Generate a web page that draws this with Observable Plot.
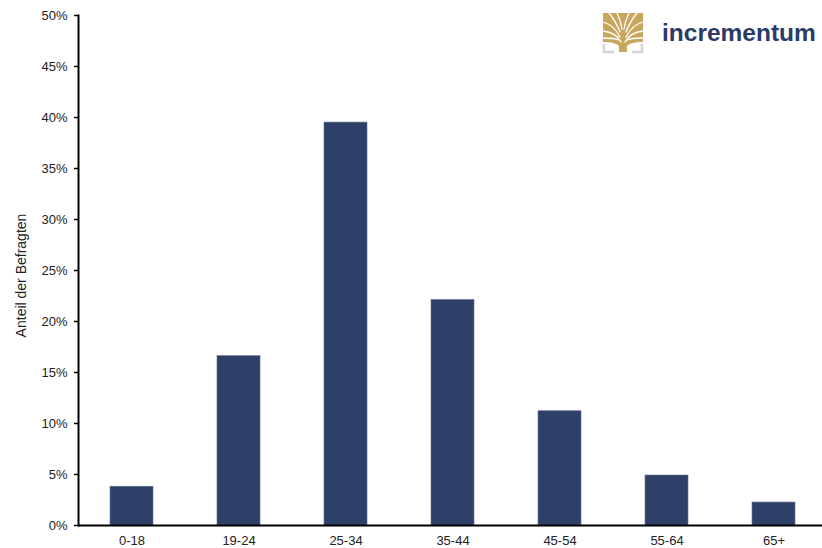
<!DOCTYPE html>
<html>
<head>
<meta charset="utf-8">
<script src="https://cdn.jsdelivr.net/npm/d3@7"></script>
<script src="https://cdn.jsdelivr.net/npm/@observablehq/plot@0.6"></script>
<style>
  html, body { margin: 0; padding: 0; background: #fff; }
  #wrap { position: relative; width: 822px; height: 548px; overflow: hidden; font-family: "Liberation Sans", Arial, sans-serif; }
  #logo { position: absolute; left: 602px; top: 12px; width: 220px; height: 44px; }
  #logo svg { position: absolute; left: 0; top: 0; }
  #logo .word { position: absolute; left: 60px; top: 7px; font-family: "Liberation Sans", Arial, sans-serif; font-weight: bold; font-size: 24.5px; line-height: 28px; color: #2b3a67; letter-spacing: 0px; }
</style>
</head>
<body>
<div id="wrap">
  <div id="chart"></div>
  <div id="logo">
    <svg width="42" height="42" viewBox="0 0 42 42">
      <path d="M1 1 H41 V30 C33 30 28 31 25 34 V40 H17 V34 C14 31 9 30 1 30 Z" fill="#c9a65e"/>
      <g stroke="#fff" stroke-width="1.3" fill="none" stroke-linecap="round">
        <path d="M19 30 C16 24 9 20 1 19"/>
        <path d="M23 30 C26 24 33 20 41 19"/>
        <path d="M18 25 C14 17 8 12 1 10"/>
        <path d="M24 25 C28 17 34 12 41 10"/>
        <path d="M18 20 C15 12 11 6 7 1"/>
        <path d="M24 20 C27 12 31 6 35 1"/>
        <path d="M20 17 C19 10 17 5 15 1"/>
        <path d="M22 17 C23 10 25 5 27 1"/>
        <path d="M17 28 C12 26 6 26 1 26"/>
        <path d="M25 28 C30 26 36 26 41 26"/>
      </g>
      <path d="M2 32 V40 H12" stroke="#d5d5d5" stroke-width="2.5" fill="none"/>
      <path d="M40 32 V40 H30" stroke="#d5d5d5" stroke-width="2.5" fill="none"/>
    </svg>
    <div class="word">incrementum</div>
  </div>
</div>
<script>
const categories = ["0-18", "19-24", "25-34", "35-44", "45-54", "55-64", "65+"];
const shares = [3.8, 16.6, 39.5, 22.1, 11.2, 4.9, 2.25];
const yTicks = [0, 5, 10, 15, 20, 25, 30, 35, 40, 45, 50];
const yTitle = "Anteil der Befragten";

const data = categories.map((c, i) => ({ age: c, share: shares[i] }));

const chart = Plot.plot({
  width: 822,
  height: 548,
  marginLeft: 78,
  marginRight: 0,
  marginTop: 15,
  marginBottom: 23,
  style: { fontFamily: "'Liberation Sans', Arial, sans-serif", fontSize: "13px", color: "#222", background: "#fff" },
  x: { domain: categories, range: [78, 827], paddingInner: 0.6, paddingOuter: 0.3, label: null },
  y: { domain: [0, 50], label: null },
  marks: [
    Plot.barY(data, { x: "age", y: "share", fill: "#2e4068", stroke: "#5d6f95", strokeWidth: 0.6 }),
    Plot.axisY({ ticks: yTicks, tickFormat: d => d + "%", tickSize: 4, tickPadding: 7, stroke: "#000", strokeWidth: 1.5, strokeOpacity: 1, fill: "#222", fontSize: 13, label: null }),
    Plot.axisX({ tickSize: 0, tickPadding: 10, fill: "#222", fontSize: 13, label: null }),
    Plot.ruleY([0], { stroke: "#000", strokeWidth: 2 }),
    Plot.frame({ anchor: "left", stroke: "#000", strokeWidth: 2 }),
    Plot.text([yTitle], { frameAnchor: "left", dx: -57, dy: 5, rotate: -90, textAnchor: "middle", lineAnchor: "middle", fill: "#222", fontSize: 14 })
  ]
});
document.getElementById("chart").appendChild(chart);
</script>
</body>
</html>
